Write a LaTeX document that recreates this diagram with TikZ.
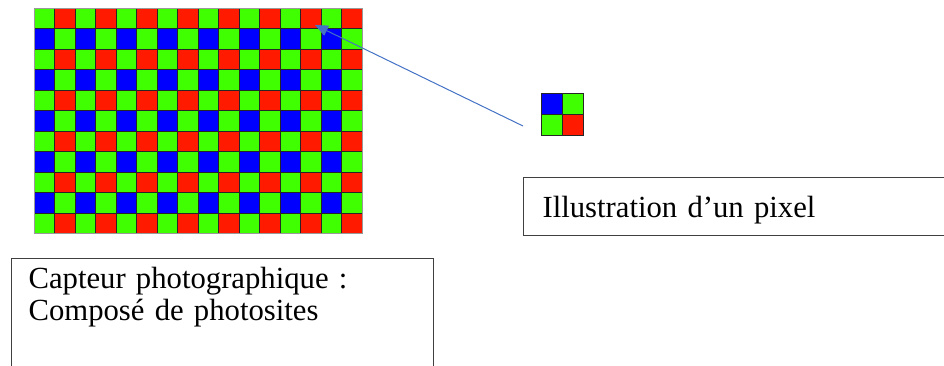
\documentclass[tikz,border=0pt]{standalone}
\usepackage{fontspec}
\setmainfont{Liberation Serif}
\usetikzlibrary{positioning,arrows.meta}
\definecolor{sgreen}{RGB}{64,255,0}
\definecolor{sred}{RGB}{255,26,0}
\definecolor{sblue}{RGB}{0,0,255}
\definecolor{arrowblue}{RGB}{68,114,196}
\tikzset{
	>={Triangle[length=13pt,width=11pt]}
}

\begin{document}
\begin{tikzpicture}[
x = 1pt, y = -1pt,
node distance = 0pt,
every node/.style = {
	font = \fontsize{30.7}{32}\selectfont
},
photosite/.style = {
	draw = black!85,
	line width = 0.8pt,
	inner sep = 0pt,
	outer sep = 0pt,
	minimum size = 20.5pt
},
textbox/.style = {
	draw = black!75,
	line width = 1.1pt,
	align = left,
	anchor = north west
}
]
\useasboundingbox (0,0) rectangle (944,365);

% capteur : motif de Bayer
\foreach \r in {0,...,10} {
	\foreach \c in {0,...,15} {
		\pgfmathtruncatemacro{\k}{mod(\r,2)*2 + mod(\c,2)}
		\ifcase\k \def\col{sgreen}\or \def\col{sred}\or \def\col{sblue}\or \def\col{sgreen}\fi
		\node (cell-\r-\c) [photosite, fill = \col] at (34+20.5*\c+10.25, 8+20.5*\r+10.25) {};
	}
}
\draw [black!40, line width = 0.8pt] (cell-0-0.north west) rectangle (cell-10-15.south east);

% un pixel
\node (px-b) [photosite, minimum size = 21pt, fill = sblue] at (551.5,103.5) {};
\node (px-g1) [photosite, minimum size = 21pt, fill = sgreen, right = of px-b] {};
\node (px-g2) [photosite, minimum size = 21pt, fill = sgreen, below = of px-b] {};
\node (px-r) [photosite, minimum size = 21pt, fill = sred, right = of px-g2] {};

% legendes
\node (pixelbox) [textbox, inner xsep = 19pt, inner ysep = 0pt, minimum height = 58pt, text height = 24pt, text depth = 2pt, text width = 420pt] at (523,177) {Illustration d’un pixel};
\node (capbox) [textbox, inner xsep = 17pt, inner ysep = 14pt, text height = 16pt, text depth = 90pt, text width = 388pt] at (11,258) {Capteur photographique :\\Composé de photosites};

\coordinate (arrowstart) at (523,126);
\coordinate (arrowtip) at (315,25);
\draw [->, arrowblue, line width = 1pt] (arrowstart) -- (arrowtip);

\end{tikzpicture}
\end{document}
